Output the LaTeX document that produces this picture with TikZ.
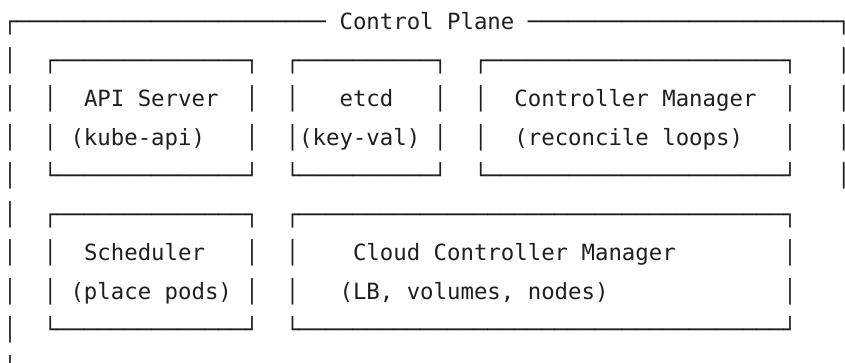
\documentclass[tikz,border=0pt]{standalone}
\usepackage{fontspec}
\newfontfamily\dvmono{DejaVu Sans Mono}
\newcommand{\asciifont}{\fontsize{22.34pt}{26pt}\selectfont\dvmono}
\tikzset{
  cell/.style={anchor=base west, inner sep=0pt, outer sep=0pt, font=\asciifont, text=black!88},
  edgecell/.style={anchor=base, inner sep=0pt, outer sep=0pt, font=\asciifont, text=black!88}
}
\begin{document}
\begin{tikzpicture}[x=13.45pt, y=-38.5pt]
\useasboundingbox[fill=white] (0pt,0pt) rectangle (845pt,-363pt);
\begin{scope}[shift={(3.3pt,-29.73pt)}]
% row 0: outer frame top with title
\node[cell] (outerTL) at (0,0) {┌───────────────────────};
\node[cell] (title)   at (25,0) {Control Plane};
\node[cell] (outerT)  at (39,0) {───────────────────────};
\node[edgecell] (outerTR) at (62.5,0) {\makebox[2pt][c]{┐}};
% row 1
\node[cell] (oL1) at (0,1) {│};
\node[cell] (apiTop)  at (3,1)  {┌──────────────┐};
\node[cell] (etcdTop) at (21,1) {┌──────────┐};
\node[cell] (cmTop)   at (35,1) {┌──────────────────────┐};
\node[edgecell] (oR1) at (62.5,1) {\makebox[2pt][c]{│}};
% row 2
\node[cell] (oL2) at (0,2) {│};
\node[cell] (apiL2) at (3,2) {│};
\node[cell] (api) at (6,2) {API Server};
\node[cell] (apiR2) at (18,2) {│};
\node[cell] (etcdL2) at (21,2) {│};
\node[cell] (etcd) at (25,2) {etcd};
\node[cell] (etcdR2) at (32,2) {│};
\node[cell] (cmL2) at (35,2) {│};
\node[cell] (cm) at (38,2) {Controller Manager};
\node[cell] (cmR2) at (58,2) {│};
\node[edgecell] (oR2) at (62.5,2) {\makebox[2pt][c]{│}};
% row 3
\node[cell] (oL3) at (0,3) {│};
\node[cell] (apiL3) at (3,3) {│};
\node[cell] (apiSub) at (5,3) {(kube-api)};
\node[cell] (apiR3) at (18,3) {│};
\node[cell] (etcdL3) at (21,3) {│};
\node[cell] (etcdSub) at (22,3) {(key-val)};
\node[cell] (etcdR3) at (32,3) {│};
\node[cell] (cmL3) at (35,3) {│};
\node[cell] (cmSub) at (38,3) {(reconcile loops)};
\node[cell] (cmR3) at (58,3) {│};
\node[edgecell] (oR3) at (62.5,3) {\makebox[2pt][c]{│}};
% row 4
\node[cell] (oL4) at (0,4) {│};
\node[cell] (apiBot)  at (3,4)  {└──────────────┘};
\node[cell] (etcdBot) at (21,4) {└──────────┘};
\node[cell] (cmBot)   at (35,4) {└──────────────────────┘};
\node[edgecell] (oR4) at (62.5,4) {\makebox[2pt][c]{│}};
% row 5
\node[cell] (oL5) at (0,5) {│};
\node[cell] (schTop) at (3,5)  {┌──────────────┐};
\node[cell] (ccmTop) at (21,5) {┌────────────────────────────────────┐};
% row 6
\node[cell] (oL6) at (0,6) {│};
\node[cell] (schL6) at (3,6) {│};
\node[cell] (sch) at (6,6) {Scheduler};
\node[cell] (schR6) at (18,6) {│};
\node[cell] (ccmL6) at (21,6) {│};
\node[cell] (ccm) at (26,6) {Cloud Controller Manager};
\node[cell] (ccmR6) at (58,6) {│};
% row 7
\node[cell] (oL7) at (0,7) {│};
\node[cell] (schL7) at (3,7) {│};
\node[cell] (schSub) at (5,7) {(place pods)};
\node[cell] (schR7) at (18,7) {│};
\node[cell] (ccmL7) at (21,7) {│};
\node[cell] (ccmSub) at (25,7) {(LB, volumes, nodes)};
\node[cell] (ccmR7) at (58,7) {│};
% row 8
\node[cell] (oL8) at (0,8) {│};
\node[cell] (schBot) at (3,8)  {└──────────────┘};
\node[cell] (ccmBot) at (21,8) {└────────────────────────────────────┘};
% row 9
\node[cell] (oL9) at (0,9) {│};
\end{scope}
\end{tikzpicture}
\end{document}
